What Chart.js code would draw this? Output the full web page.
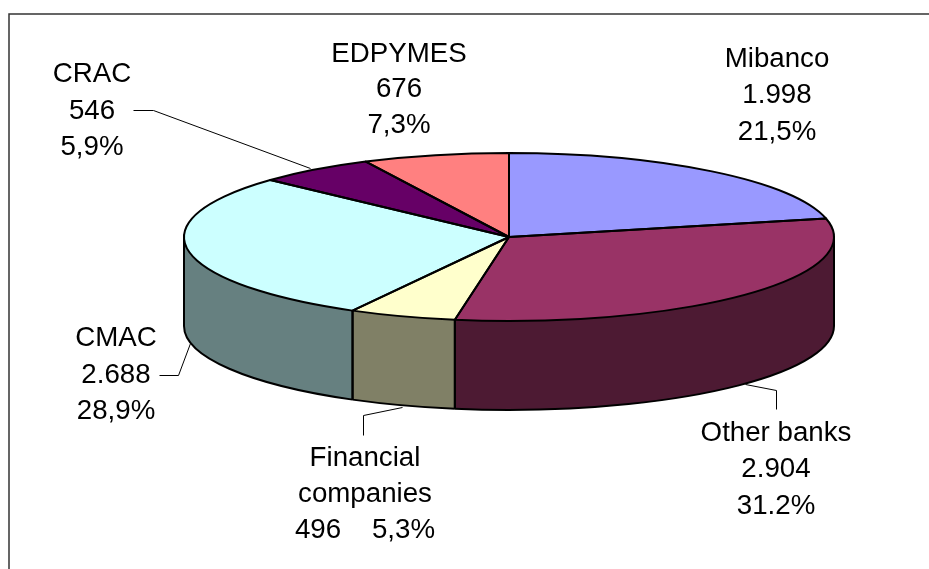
<!DOCTYPE html>
<html>
<head>
<meta charset="utf-8">
<style>html,body{margin:0;padding:0;background:#fff}canvas{display:block}</style>
<script src="https://cdn.jsdelivr.net/npm/chart.js@4"></script>
</head>
<body>
<canvas id="c" width="929" height="569"></canvas>
<script>
const categories = ["Mibanco", "Other banks", "Financial companies", "CMAC", "CRAC", "EDPYMES"];
const values = [1998, 2904, 496, 2688, 546, 676];
const topColors = ["#9999FF", "#993366", "#FFFFCC", "#CCFFFF", "#660066", "#FF8080"];
const sideColors = ["#4D4D80", "#4D1A33", "#808066", "#668080", "#330033", "#804040"];
const labelLines = [
  ["Mibanco", "1.998", "21,5%"],
  ["Other banks", "2.904", "31.2%"],
  ["Financial", "companies", "496    5,3%"],
  ["CMAC", "2.688", "28,9%"],
  ["CRAC", "546", "5,9%"],
  ["EDPYMES", "676", "7,3%"]
];
// layout only: label centre and baselines, leader polylines, pie projection
const labelX = [777, 776, 365, 116, 92, 399];
const labelY = [[67,103,140],[441,477,514],[466,502,538],[346,383,419],[82,119,155],[62,97,133]];
const leaders = [
  null,
  [[745,384],[776,390],[776,409]],
  [[363,435],[363,415],[402,407]],
  [[159,375],[178,375],[190,343]],
  [[133,110],[153,110],[310,168]],
  null
];
const pie3d = {cx: 509, cy: 237, rx: 325, ry: 84, depth: 89};

const pie3dPlugin = {
  id: 'pie3d',
  beforeDatasetsDraw(chart) {
    const ctx = chart.ctx, p = pie3d;
    const arcs = chart.getDatasetMeta(0).data;
    // extruded wall, lower half of the ellipse
    ctx.save();
    arcs.forEach((a, i) => {
      const s = Math.max(a.startAngle, 0), e = Math.min(a.endAngle, Math.PI);
      if (e <= s) return;
      ctx.beginPath();
      ctx.ellipse(p.cx, p.cy, p.rx, p.ry, 0, s, e);
      ctx.ellipse(p.cx, p.cy + p.depth, p.rx, p.ry, 0, e, s, true);
      ctx.closePath();
      ctx.fillStyle = sideColors[i];
      ctx.fill();
    });
    ctx.strokeStyle = '#000';
    ctx.lineWidth = 2;
    arcs.forEach(a => {
      const s = Math.max(a.startAngle, 0), e = Math.min(a.endAngle, Math.PI);
      if (e <= s) return;
      ctx.beginPath();
      ctx.ellipse(p.cx, p.cy + p.depth, p.rx, p.ry, 0, s, e);
      ctx.stroke();
      [a.startAngle, a.endAngle].forEach(t => {
        if (t >= 0 && t <= Math.PI) {
          const x = p.cx + p.rx * Math.cos(t), y = p.cy + p.ry * Math.sin(t);
          ctx.beginPath(); ctx.moveTo(x, y); ctx.lineTo(x, y + p.depth); ctx.stroke();
        }
      });
    });
    [-1, 1].forEach(d => {
      ctx.beginPath();
      ctx.moveTo(p.cx + d * p.rx, p.cy);
      ctx.lineTo(p.cx + d * p.rx, p.cy + p.depth);
      ctx.stroke();
    });
    ctx.restore();
    // squash the library's own round pie into the tilted top face
    const a0 = arcs[0];
    ctx.save();
    ctx.translate(p.cx, p.cy);
    ctx.scale(p.rx / a0.outerRadius, p.ry / a0.outerRadius);
    ctx.translate(-a0.x, -a0.y);
  },
  afterDatasetsDraw(chart) {
    const ctx = chart.ctx, p = pie3d;
    ctx.restore();
    const arcs = chart.getDatasetMeta(0).data;
    ctx.save();
    ctx.strokeStyle = '#000';
    ctx.lineWidth = 2;
    ctx.lineJoin = 'round';
    arcs.forEach(a => {
      ctx.beginPath();
      ctx.moveTo(p.cx, p.cy);
      ctx.ellipse(p.cx, p.cy, p.rx, p.ry, 0, a.startAngle, a.endAngle);
      ctx.closePath();
      ctx.stroke();
    });
    ctx.restore();
  },
  afterDraw(chart) {
    const ctx = chart.ctx;
    ctx.save();
    // frame: top and left edges only
    ctx.strokeStyle = '#333';
    ctx.lineWidth = 1.5;
    ctx.beginPath();
    ctx.moveTo(929, 14); ctx.lineTo(9, 14); ctx.lineTo(9, 569);
    ctx.stroke();
    // leader lines
    ctx.strokeStyle = '#000';
    ctx.lineWidth = 1;
    leaders.forEach(l => {
      if (!l) return;
      ctx.beginPath();
      l.forEach((pt, i) => i ? ctx.lineTo(pt[0] + .5, pt[1] + .5) : ctx.moveTo(pt[0] + .5, pt[1] + .5));
      ctx.stroke();
    });
    // data labels
    ctx.fillStyle = '#000';
    ctx.font = '27.7px "Liberation Sans", Arial, sans-serif';
    ctx.textAlign = 'center';
    ctx.textBaseline = 'alphabetic';
    labelLines.forEach((lines, i) => {
      lines.forEach((t, j) => ctx.fillText(t, labelX[i], labelY[i][j]));
    });
    ctx.restore();
  }
};

new Chart(document.getElementById('c'), {
  type: 'pie',
  data: {
    labels: categories,
    datasets: [{ data: values, backgroundColor: topColors, borderWidth: 0 }]
  },
  options: {
    responsive: false,
    animation: false,
    layout: { padding: 0 },
    plugins: { legend: { display: false }, tooltip: { enabled: false }, title: { display: false } }
  },
  plugins: [pie3dPlugin]
});
</script>
</body>
</html>
